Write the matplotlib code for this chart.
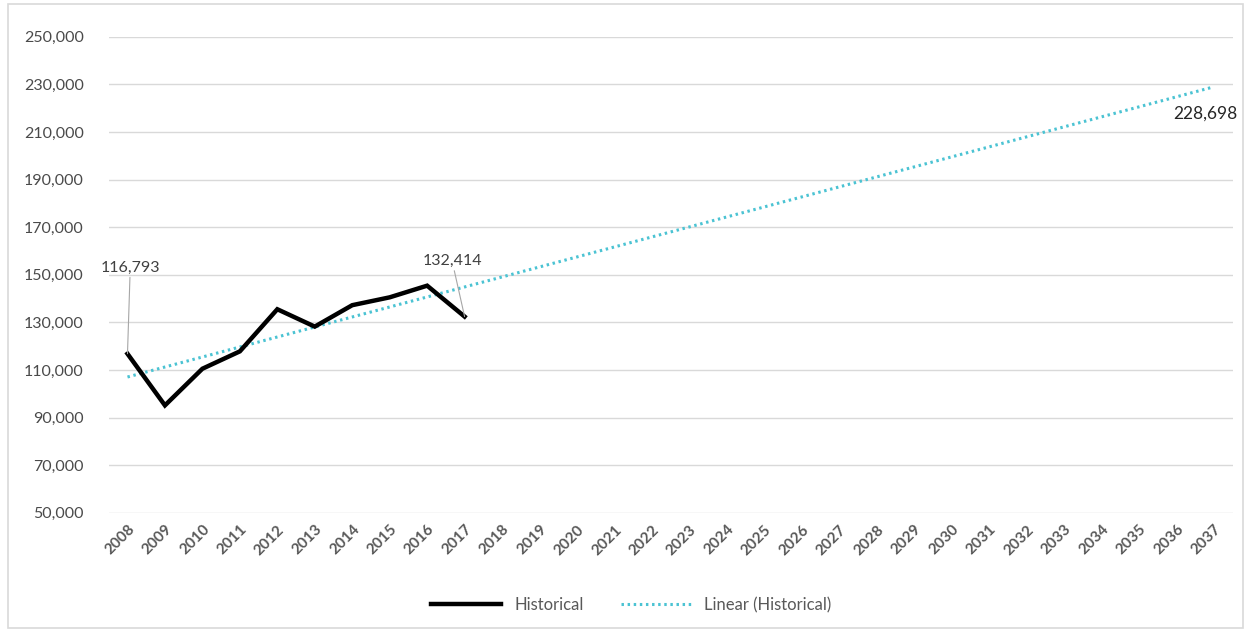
import numpy as np
import matplotlib.pyplot as plt

plt.rcParams['font.family'] = ['Lato', 'DejaVu Sans']

years = list(range(2008, 2038))
hist_years = list(range(2008, 2018))
historical = [116793, 95100, 110500, 117800, 135500, 128200, 137200, 140500, 145400, 132414]
trend_end_label = 228698
yticks = [50000, 70000, 90000, 110000, 130000, 150000, 170000, 190000, 210000, 230000, 250000]

x_all = np.arange(len(years))
x_hist = np.arange(len(hist_years))

# linear trend of the historical series, extended to 2037
coef = np.polyfit(x_hist, historical, 1)
trend = np.polyval(coef, x_all)

fig = plt.figure(figsize=(12.5, 6.33), dpi=100)
ax = fig.add_axes([0.087, 0.19, 0.899, 0.752])

gray = '#595959'
l_trend, = ax.plot(x_all, trend, color='#4bc3d3', lw=2.2, ls=(0, (0.8, 1.2)), label='Linear (Historical)', zorder=2)
l_hist, = ax.plot(x_hist, historical, color='black', lw=3.2, solid_joinstyle='miter', label='Historical', zorder=3)

ax.set_xlim(-0.5, len(years) - 0.5)
ax.set_ylim(50000, 250000)
ax.set_yticks(yticks)
ax.set_yticklabels(['{:,}'.format(v) for v in yticks])
ax.set_xticks(x_all)
ax.set_xticklabels([str(y) for y in years], rotation=45, ha='right', va='top',
                   rotation_mode='anchor', fontweight='bold')
ax.tick_params(axis='both', length=0, colors=gray)
ax.tick_params(axis='y', labelcolor='#4a4a4a')
ax.tick_params(axis='x', pad=7, labelsize=11)
ax.tick_params(axis='y', pad=18, labelsize=11.5)
ax.grid(axis='y', color='#d9d9d9', lw=1)
ax.set_axisbelow(True)
for s in ax.spines.values():
    s.set_visible(False)

ax.annotate('{:,}'.format(historical[0]), xy=(x_hist[0], historical[0]), xytext=(2, 57),
            textcoords='offset points', ha='center', va='bottom', fontsize=11.5, color='#404040',
            arrowprops=dict(arrowstyle='-', color='#a6a6a6', lw=0.8, shrinkA=0, shrinkB=0))
ax.annotate('{:,}'.format(historical[-1]), xy=(x_hist[-1], historical[-1]), xytext=(-9, 35),
            textcoords='offset points', ha='center', va='bottom', fontsize=11.5, color='#404040',
            arrowprops=dict(arrowstyle='-', color='#a6a6a6', lw=0.8, shrinkA=0, shrinkB=0))
ax.annotate('{:,}'.format(trend_end_label), xy=(x_all[-1], trend[-1]), xytext=(-6, -19),
            textcoords='offset points', ha='center', va='center', fontsize=12.5, color='#262626')

fig.legend(handles=[l_hist, l_trend], loc='center', bbox_to_anchor=(0.505, 0.044), ncol=2,
           frameon=False, fontsize=12, handlelength=4.2, columnspacing=2.2, labelcolor=gray)

fig.patches.append(plt.Rectangle((0.006, 0.008), 0.988, 0.985, transform=fig.transFigure,
                                 fill=False, edgecolor='#d9d9d9', lw=1.2))

fig.savefig('out.png', dpi=100)
